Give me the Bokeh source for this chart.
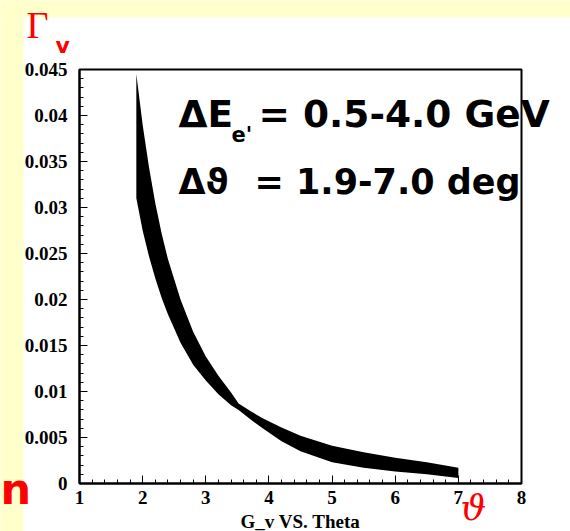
from bokeh.plotting import figure
from bokeh.models import FixedTicker, Label, BoxAnnotation, Range1d, LinearAxis
from bokeh.embed import file_html
from bokeh.resources import INLINE
import numpy as np

# ---- data ----
theta = [1.9, 2.0, 2.1, 2.2, 2.3, 2.4, 2.6, 2.8, 3.0, 3.2, 3.4, 3.52,
         3.7, 3.9, 4.2, 4.5, 5.0, 5.5, 6.0, 6.5, 7.0]
gamma_upper = [0.0445, 0.0390, 0.0344, 0.0305, 0.0272, 0.0244, 0.0200, 0.0165,
               0.0138, 0.0117, 0.0099, 0.0087, 0.0079, 0.0071, 0.0061, 0.0052,
               0.0041, 0.0034, 0.0028, 0.0023, 0.0017]
gamma_lower = [0.0310, 0.0275, 0.0247, 0.0223, 0.0202, 0.0184, 0.0153, 0.0129,
               0.0112, 0.0097, 0.0085, 0.0080, 0.0070, 0.0060, 0.0046, 0.0035,
               0.0023, 0.0017, 0.0013, 0.0010, 0.0006]
x_ticks = [1, 2, 3, 4, 5, 6, 7, 8]
y_ticks = [0, 0.005, 0.01, 0.015, 0.02, 0.025, 0.03, 0.035, 0.04, 0.045]
y_tick_labels = ["0", "0.005", "0.01", "0.015", "0.02", "0.025", "0.03",
                 "0.035", "0.04", "0.045"]
x_title = "G_v VS. Theta"

W, H = 570, 531

# reference-pixel -> data helpers (plot box: x 79..521, y 69..483)
def dx(X):
    return 1 + (X - 79) * 7.0 / 442.0

def dy(Y):
    return (483 - Y) * 0.045 / 414.0

p = figure(width=W, height=H, output_backend="svg", toolbar_location=None,
           x_range=Range1d(dx(0), dx(W)), y_range=Range1d(dy(H), dy(0)),
           x_axis_type=None, y_axis_type=None, min_border=0)
p.border_fill_color = "white"
p.background_fill_color = "white"
p.outline_line_color = None

# slide background strips
p.add_layout(BoxAnnotation(left=dx(-60), right=dx(23), bottom=dy(700), top=dy(-60),
                           fill_color="#FFFFCC", fill_alpha=1, line_alpha=0,
                           level="underlay"))
p.add_layout(BoxAnnotation(left=dx(-60), right=dx(700), bottom=dy(17), top=dy(-60),
                           fill_color="#FFFFCC", fill_alpha=1, line_alpha=0,
                           level="underlay"))

# plot box
p.quad(left=[x_ticks[0]], right=[x_ticks[-1]], bottom=[y_ticks[0]], top=[y_ticks[-1]],
       fill_alpha=0, line_color="black", line_width=2)

# band
p.varea(x=theta, y1=gamma_lower, y2=gamma_upper, fill_color="black")

# axes
xminor = list(np.arange(1, 8.0001, 0.2))
yminor = list(np.arange(0, 0.04501, 0.001))
xaxis = LinearAxis(ticker=FixedTicker(ticks=x_ticks, minor_ticks=xminor),
                   fixed_location=y_ticks[0], bounds=(x_ticks[0], x_ticks[-1]))
yaxis = LinearAxis(ticker=FixedTicker(ticks=y_ticks, minor_ticks=yminor),
                   fixed_location=x_ticks[0], bounds=(y_ticks[0], y_ticks[-1]))
yaxis.major_label_overrides = {t: s for t, s in zip(y_ticks, y_tick_labels)}
for ax in (xaxis, yaxis):
    ax.axis_line_width = 2
    ax.axis_line_color = "black"
    ax.major_tick_in = 8
    ax.major_tick_out = 0
    ax.minor_tick_in = 4
    ax.minor_tick_out = 0
    ax.major_tick_line_color = "black"
    ax.minor_tick_line_color = "black"
    ax.major_label_text_font = "Liberation Serif"
    ax.major_label_text_font_style = "bold"
    ax.major_label_text_font_size = "19px"
    ax.major_label_text_color = "black"
xaxis.major_label_standoff = 7
yaxis.major_label_standoff = 12
p.add_layout(xaxis, "below")
p.add_layout(yaxis, "left")

DESC = {"DejaVu Sans": 0.236, "DejaVu Serif": 0.236, "Liberation Serif": 0.216}

def lab(X, base, text, font, size, color="black", style="normal", align="left"):
    # anchor at bottom of the text box: baseline + font descent
    yb = base + DESC[font] * size
    p.add_layout(Label(x=dx(X), y=dy(yb), text=text, text_font=font,
                       text_font_style=style, text_font_size=f"{size}px",
                       text_color=color, text_align=align,
                       text_baseline="bottom"))

# axis title
lab(300, 527, x_title, "Liberation Serif", 19, style="bold", align="center")

# annotation texts
sans = "DejaVu Sans"
lab(178, 127, "ΔE", sans, 37.5, style="bold")
lab(231, 142, "e'", sans, 21, style="bold")
lab(258, 127, "= 0.5-4.0 GeV", sans, 37.5, style="bold")
lab(178, 193, "Δϑ", sans, 35, style="bold")
lab(254, 193, "= 1.9-7.0 deg", sans, 35, style="bold")

# red slide symbols
lab(26, 37, "Γ", "Liberation Serif", 38, color="red")
lab(55, 52, "v", sans, 22, color="red", style="bold")
lab(0, 503, "n", sans, 43, color="red", style="bold")
lab(460, 519, "ϑ", "DejaVu Serif", 36, color="red", style="italic")

open("out.html", "w").write(file_html(p, INLINE))
